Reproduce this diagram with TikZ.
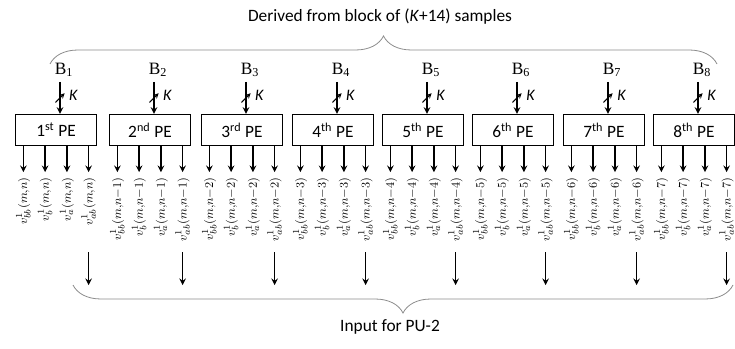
\documentclass[tikz,border=0pt]{standalone}
\usepackage{amsmath}
\usepackage{fontspec}
\setmainfont{Carlito}
\newfontfamily\blkfont{Liberation Serif}
\usetikzlibrary{positioning,decorations.pathreplacing}
\newcommand{\vout}[1]{$\thinmuskip=0mu \medmuskip=0mu #1$}

\begin{document}
\begin{tikzpicture}[>=stealth, thick, x=0.75pt, y=-0.75pt,
    pebox/.style={draw, line width=1.2pt, minimum width=61pt, minimum height=23pt,
        inner sep=1pt, font=\fontsize{13}{15}\selectfont},
    blab/.style={font=\blkfont\fontsize{13}{15}\selectfont},
    slashmark/.style={inner sep=0pt, minimum size=7pt,
        path picture={\draw[thick] (path picture bounding box.south west)
            -- (path picture bounding box.north east);}},
    vlab/.style={rotate=90, anchor=east, inner sep=0pt, outer sep=4pt,
        font=\fontsize{9.5}{10}\selectfont},
    brc/.style={draw=black!45, semithick, decorate,
        decoration={brace, amplitude=21pt}}]
    \useasboundingbox (0,0) rectangle (735,349);

    \node (title) at (380,17) {\fontsize{13}{15}\selectfont Derived from block of (\textit{K}+14) samples};
    \coordinate (tl) at (50,64);
    \coordinate (tr) at (717,64);
    \draw[brc] (tl) -- (tr);

    % processing elements
    \node[pebox] (pe1) at (56,130) {1\textsuperscript{st} PE};
    \node[pebox] (pe2) at (150,130) {2\textsuperscript{nd} PE};
    \node[pebox] (pe3) at (242,130) {3\textsuperscript{rd} PE};
    \node[pebox] (pe4) at (333,130) {4\textsuperscript{th} PE};
    \node[pebox] (pe5) at (423,130) {5\textsuperscript{th} PE};
    \node[pebox] (pe6) at (513,130) {6\textsuperscript{th} PE};
    \node[pebox] (pe7) at (604,130) {7\textsuperscript{th} PE};
    \node[pebox] (pe8) at (694,130) {8\textsuperscript{th} PE};

    % blocks and inputs
    \foreach \k in {1,...,8} {
        \node[blab, above=24pt of pe\k, xshift=6pt] (b\k) {B\textsubscript{\k}};
        \draw[->, very thick] ([xshift=-3pt]b\k.south) -- node[pos=0.5, slashmark] {}
            node[pos=0.42, right=3pt, font=\fontsize{12}{14}\selectfont] {\textit{K}}
            ([xshift=-3pt]b\k.south |- pe\k.north);
    }

    % outputs
    \foreach \k/\s in {1/,2/-1,3/-2,4/-3,5/-4,6/-5,7/-6,8/-7} {
        \draw[->, very thick] ([xshift=-24.5pt]pe\k.south) -- ++(0,26) node[vlab] {\vout{v^{1}_{bb}(m,n\s)}};
        \draw[->, very thick] ([xshift=-8.2pt]pe\k.south) -- ++(0,26) node[vlab] {\vout{v^{1}_{b}(m,n\s)}};
        \draw[->, very thick] ([xshift=8.2pt]pe\k.south) -- ++(0,26) node[vlab] {\vout{v^{1}_{a}(m,n\s)}};
        \draw[->, very thick] ([xshift=24.5pt]pe\k.south) -- ++(0,26) node[vlab] {\vout{v^{1}_{ab}(m,n\s)}};
        \draw[->, very thick] ([xshift=24.5pt]pe\k.south) ++(0,106) -- ++(0,33);
    }

    \coordinate (bl) at (73,285);
    \coordinate (br) at (733,285);
    \draw[brc] (br) -- (bl);
    \node (input) at (390,327) {\fontsize{13}{15}\selectfont Input for PU-2};
\end{tikzpicture}
\end{document}
